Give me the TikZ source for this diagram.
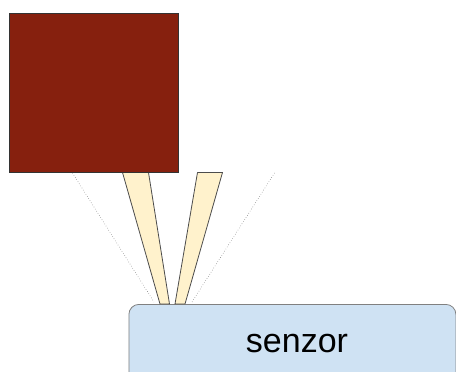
\documentclass[tikz,border=0pt]{standalone}
\usepackage{fontspec}
\setmainfont{Liberation Sans}
\definecolor{brick}{HTML}{86200E}
\definecolor{beam}{HTML}{FFF2CC}
\definecolor{sens}{HTML}{CFE2F3}
\tikzset{
  beamshape/.style={fill=beam,draw=black!70,line width=0.8pt,line join=round},
  guide/.style={draw=black!60,dotted,line width=0.5pt},
}
\begin{document}
\begin{tikzpicture}[x=1pt,y=-1pt]
\useasboundingbox (0,0) rectangle (456,372);
\begin{scope}
\clip (0,0) rectangle (456,372);
\node[draw=black!50,line width=0.8pt,fill=sens,rounded corners=10pt,minimum width=327pt,minimum height=90pt,anchor=north west,inner sep=0pt] (sensor) at (128.5,304) {};
\end{scope}
\node[font=\fontsize{34}{40}\selectfont] (lbl) at (297,344) {senzor};
\coordinate (b1a) at (122.5,172.5);
\coordinate (b1b) at (148.5,172.5);
\coordinate (b1c) at (169.5,304);
\coordinate (b1d) at (160,304);
\coordinate (b2a) at (197.5,172.5);
\coordinate (b2b) at (222.5,172.5);
\coordinate (b2c) at (185,304);
\coordinate (b2d) at (175,304);
\path[beamshape] (b1a) -- (b1b) -- (b1c) -- (b1d) -- cycle;
\path[beamshape] (b2a) -- (b2b) -- (b2c) -- (b2d) -- cycle;
\coordinate (g1a) at (72.5,173);
\coordinate (g1b) at (154,302);
\coordinate (g2a) at (274.5,173);
\coordinate (g2b) at (192,302);
\draw[guide] (g1a) -- (g1b);
\draw[guide] (g2a) -- (g2b);
\node[draw=black!80,line width=0.8pt,fill=brick,minimum width=169pt,minimum height=159pt,anchor=north west,inner sep=0pt] (block) at (9,13) {};
\end{tikzpicture}
\end{document}
